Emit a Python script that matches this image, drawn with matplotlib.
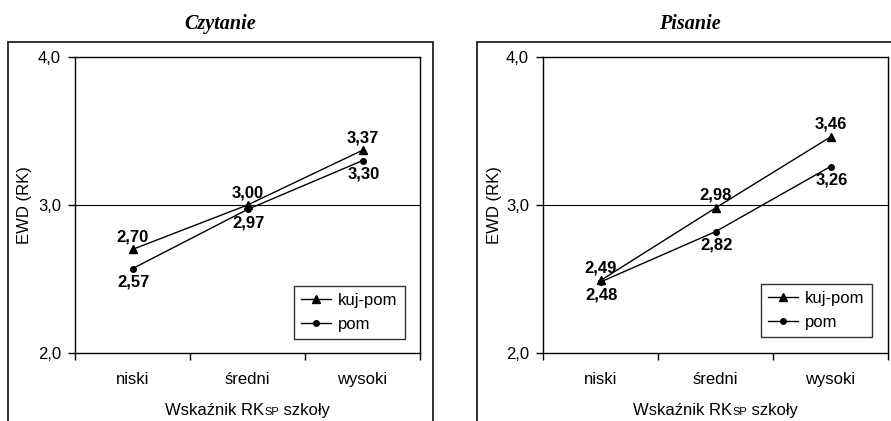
import matplotlib.pyplot as plt
from matplotlib.patches import Rectangle
from matplotlib.offsetbox import TextArea, HPacker, AnchoredOffsetbox

plt.rcParams['font.family'] = ['Liberation Sans', 'DejaVu Sans']

# data
categories = ['niski', 'średni', 'wysoki']
series_names = ['kuj-pom', 'pom']
czytanie_kujpom = [2.70, 3.00, 3.37]
czytanie_pom = [2.57, 2.97, 3.30]
pisanie_kujpom = [2.49, 2.98, 3.46]
pisanie_pom = [2.48, 2.82, 3.26]
titles = ['Czytanie', 'Pisanie']
y_ticks = [2.0, 3.0, 4.0]

W, H = 891, 421
fig = plt.figure(figsize=(W / 100, H / 100), dpi=100)

# outer frames around each panel
fig.patches.append(Rectangle((8 / W, -0.05), 425 / W, (421 - 42) / H + 0.05,
                             transform=fig.transFigure, fill=False, lw=1.3, ec='#222222'))
fig.patches.append(Rectangle((477 / W, -0.05), 430 / W, (421 - 42) / H + 0.05,
                             transform=fig.transFigure, fill=False, lw=1.3, ec='#222222'))

panels = [(75, czytanie_kujpom, czytanie_pom, 220, -0.145, (0.957, 0.047)),
          (543, pisanie_kujpom, pisanie_pom, 690, -0.14, (0.954, 0.054))]

fs = 12

for (left, kp, pm, tx, ylx, leg_pos), title in zip(panels, titles):
    ax = fig.add_axes([left / W, (421 - 353) / H, 345 / W, 296 / H])
    x = range(len(categories))
    ax.plot(x, kp, color='black', lw=1, marker='^', ms=5.5, label=series_names[0])
    ax.plot(x, pm, color='black', lw=1, marker='o', ms=4, label=series_names[1])
    ax.axhline(3.0, color='black', lw=0.8, zorder=0)

    for i, v in enumerate(kp):
        ax.annotate(f'{v:.2f}'.replace('.', ','), (i, v), xytext=(0, 9),
                    textcoords='offset points', ha='center', va='center',
                    fontsize=fs, fontweight='bold')
    for i, v in enumerate(pm):
        ax.annotate(f'{v:.2f}'.replace('.', ','), (i, v), xytext=(1, -9.5),
                    textcoords='offset points', ha='center', va='center',
                    fontsize=fs, fontweight='bold')

    ax.set_xlim(-0.5, 2.5)
    ax.set_ylim(2.0, 4.0)
    ax.set_yticks(y_ticks)
    ax.set_yticklabels([f'{t:.1f}'.replace('.', ',') for t in y_ticks], fontsize=fs)
    ax.set_xticks(list(x))
    ax.set_xticklabels(categories, fontsize=fs)
    ax.set_xticks([-0.5, 0.5, 1.5, 2.5], minor=True)
    ax.tick_params(axis='x', which='major', length=0, pad=14)
    ax.tick_params(axis='x', which='minor', length=5, width=1, direction='out')
    ax.tick_params(axis='y', length=5, width=1, direction='out', pad=5)
    for s in ax.spines.values():
        s.set_linewidth(1)

    ax.set_ylabel('EWD (RK)', fontsize=fs, va='center')
    ax.yaxis.set_label_coords(ylx, 0.5)

    # x label with small "SP" subscript on the baseline
    parts = [TextArea('Wskaźnik RK', textprops=dict(fontsize=fs)),
             TextArea('SP', textprops=dict(fontsize=8)),
             TextArea(' szkoły', textprops=dict(fontsize=fs))]
    box = HPacker(children=parts, align='baseline', pad=0, sep=0)
    anchored = AnchoredOffsetbox(loc='center', child=box, frameon=False, pad=0,
                                 bbox_to_anchor=(0.5, -0.193),
                                 bbox_transform=ax.transAxes, borderpad=0)
    ax.add_artist(anchored)

    leg = ax.legend(loc='lower right', bbox_to_anchor=leg_pos, fontsize=fs,
                    frameon=True, fancybox=False, edgecolor='black',
                    handlelength=1.8, handletextpad=0.4, borderpad=0.45,
                    labelspacing=0.5, borderaxespad=0)
    leg.get_frame().set_linewidth(1)

    fig.text(tx / W, 1 - 24 / H, title, ha='center', va='center',
             family='Liberation Serif', fontsize=14.5, fontweight='bold', style='italic')

fig.savefig('out.png', dpi=100)
